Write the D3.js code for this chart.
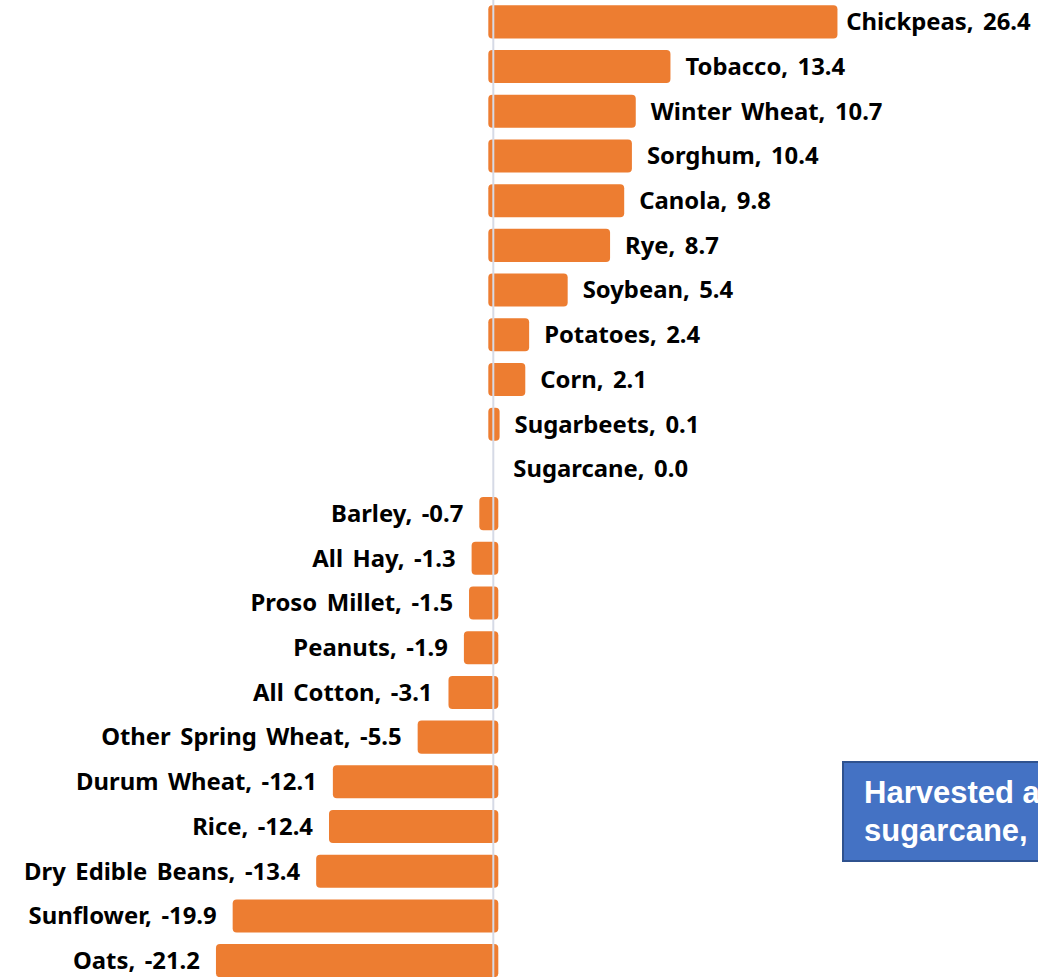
<!DOCTYPE html>
<html>
<head>
<meta charset="utf-8">
<script src="https://cdn.jsdelivr.net/npm/d3@7"></script>
<style>
  body { margin: 0; background: #fff; }
  svg { display: block; }
  .label { font-family: "Noto Sans", "DejaVu Sans", sans-serif; font-weight: 700; font-size: 23.85px; word-spacing: 3.3px; fill: #000; }
  .note { font-family: "Liberation Sans", Arial, sans-serif; font-weight: 700; font-size: 31px; fill: #fff; }
</style>
</head>
<body>
<div id="chart"></div>
<script>
/* ---------------------- Data ---------------------- */
var crops = ["Chickpeas", "Tobacco", "Winter Wheat", "Sorghum", "Canola", "Rye", "Soybean",
    "Potatoes", "Corn", "Sugarbeets", "Sugarcane", "Barley", "All Hay", "Proso Millet",
    "Peanuts", "All Cotton", "Other Spring Wheat", "Durum Wheat", "Rice", "Dry Edible Beans",
    "Sunflower", "Oats"];
var changes = [26.4, 13.4, 10.7, 10.4, 9.8, 8.7, 5.4, 2.4, 2.1, 0.1, 0.0, -0.7, -1.3, -1.5,
    -1.9, -3.1, -5.5, -12.1, -12.4, -13.4, -19.9, -21.2];
var noteLines = ["Harvested a", "sugarcane,"];

var colors = {bar: "#ED7D31", axis: "#D6DAE6", box: "#4472C4", boxEdge: "#2F528F"};

/* --------------------- Chart ---------------------- */
var width = 1038, height = 977;
var data = crops.map((c, i) => ({crop: c, value: changes[i]}));

var svg = d3.select("#chart")
    .append("svg")
    .attr("width", width)
    .attr("height", height);

var xScale = d3.scaleLinear()
    .domain([-38.4, 42.4])
    .range([0, width]);

var yScale = d3.scaleBand()
    .domain(crops)
    .range([-0.5, 983])
    .paddingInner(0.26)
    .paddingOuter(0.13);

var pad = 5;   // bars run a little past their ends (rounded caps)

// Bars
svg.append("g")
    .selectAll("rect")
    .data(data.filter(d => d.value !== 0))
    .enter()
    .append("rect")
    .attr("x", d => xScale(Math.min(0, d.value)) - pad)
    .attr("y", d => yScale(d.crop))
    .attr("width", d => Math.abs(xScale(d.value) - xScale(0)) + 2 * pad)
    .attr("height", yScale.bandwidth())
    .attr("rx", 4)
    .attr("fill", colors.bar);

// Zero axis line
svg.append("line")
    .attr("x1", xScale(0))
    .attr("x2", xScale(0))
    .attr("y1", 0)
    .attr("y2", height)
    .attr("stroke", colors.axis)
    .attr("stroke-width", 2);

// Labels
var labels = svg.append("g")
    .selectAll("text")
    .data(data)
    .enter()
    .append("text")
    .attr("class", "label")
    .attr("y", d => yScale(d.crop) + yScale.bandwidth() / 2)
    .attr("dy", "0.35em")
    .attr("text-anchor", d => d.value < 0 ? "end" : "start")
    .attr("x", d => d.value < 0 ? xScale(d.value) - 21 : xScale(d.value) + 20)
    .text(d => `${d.crop}, ${d.value.toFixed(1)}`);

// keep the labels on the page
labels.each(function(d) {
    if (d.value < 0) return;
    var w = this.getBBox().width;
    var x = +d3.select(this).attr("x");
    if (x + w > width - 7) d3.select(this).attr("x", width - 7 - w);
});

// Text box
var note = svg.append("g")
    .attr("transform", `translate(843, 762)`);

note.append("rect")
    .attr("width", 220)
    .attr("height", 99)
    .attr("fill", colors.box)
    .attr("stroke", colors.boxEdge)
    .attr("stroke-width", 2);

note.selectAll("text")
    .data(noteLines)
    .enter()
    .append("text")
    .attr("class", "note")
    .attr("x", 21)
    .attr("y", (d, i) => 41 + i * 38)
    .text(d => d);
</script>
</body>
</html>
